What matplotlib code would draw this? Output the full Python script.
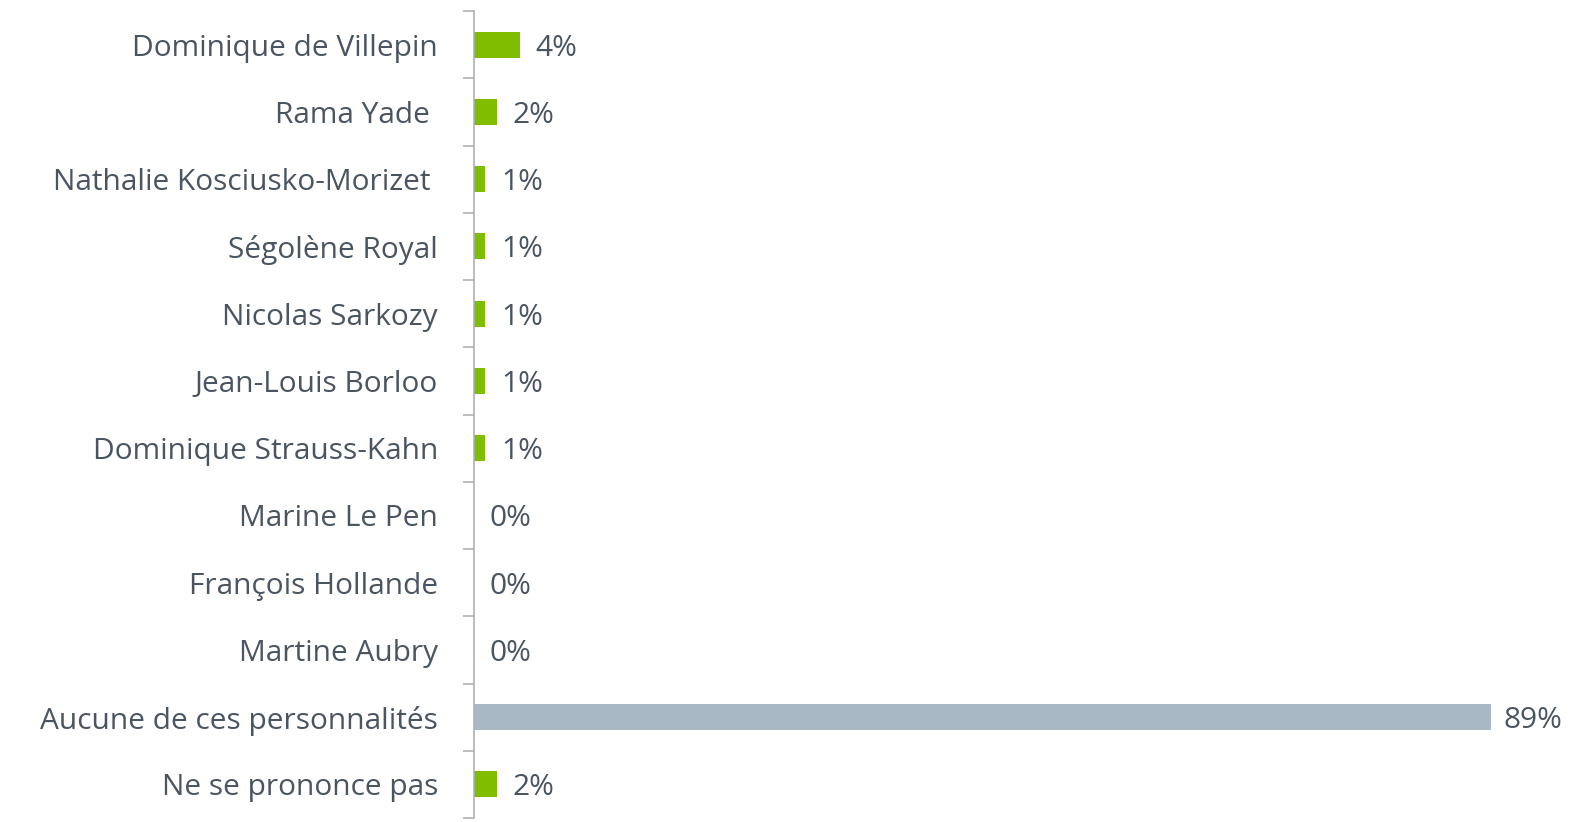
#!/usr/bin/env python
# horizontal bar chart: personnalités (sondage)

import numpy as np
import matplotlib.pyplot as plt

names = ["Dominique de Villepin", "Rama Yade ", "Nathalie Kosciusko-Morizet ",
         "Ségolène Royal", "Nicolas Sarkozy", "Jean-Louis Borloo",
         "Dominique Strauss-Kahn", "Marine Le Pen", "François Hollande",
         "Martine Aubry", "Aucune de ces personnalités", "Ne se prononce pas"]
values = [4, 2, 1, 1, 1, 1, 1, 0, 0, 0, 89, 2]

green = "#80bd00"
grey = "#a8b8c5"
txt = "#4a5562"

plt.rcParams['font.family'] = ['Open Sans', 'DejaVu Sans']

fig = plt.figure(figsize=(15.73, 8.22), dpi=100)
ax = fig.add_axes([474/1573, 4/822, 1 - 474/1573, 807/822])

y = np.arange(len(names))
colors = [grey if n.startswith("Aucune") else green for n in names]
bars = ax.barh(y, values, height=0.39, color=colors)

for yi, v in zip(y, values):
    off = 1.15 if v > 50 else 1.4
    ax.text(v + off, yi, "%d%%" % v, va='center_baseline', ha='left',
            fontsize=21.5, color=txt)

ax.set_ylim(len(names) - 0.5, -0.5)
ax.set_xlim(0, 96.2)
ax.set_yticks(y)
ax.set_yticklabels(names, fontsize=21.5, color=txt)
ax.set_yticks(np.arange(len(names) + 1) - 0.5, minor=True)
ax.tick_params(axis='y', which='major', length=0, pad=26)
ax.tick_params(axis='y', which='minor', length=8, color="#b0b0b0", width=1.2)
ax.set_xticks([])
for s in ['top', 'right', 'bottom']:
    ax.spines[s].set_visible(False)
ax.spines['left'].set_color("#b0b0b0")
ax.spines['left'].set_linewidth(1.2)

fig.savefig("out.png", dpi=100)
